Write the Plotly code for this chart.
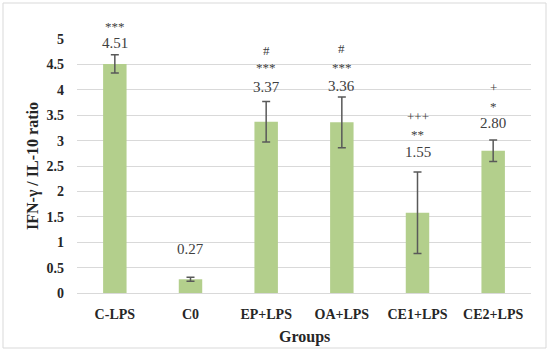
import plotly.graph_objects as go

groups = ["C-LPS", "C0", "EP+LPS", "OA+LPS", "CE1+LPS", "CE2+LPS"]
ratio = [4.51, 0.27, 3.37, 3.36, 1.58, 2.80]
ratio_err = [0.18, 0.04, 0.40, 0.50, 0.80, 0.21]
value_labels = ["4.51", "0.27", "3.37", "3.36", "1.55", "2.80"]
sig_stars = ["***", "", "***", "***", "**", "*"]
sig_other = ["", "", "#", "#", "+++", "+"]

# layout helpers (label positions in axis units)
label_y = [4.93, 0.87, 4.05, 4.08, 2.77, 3.35]
star_y = [5.31, None, 4.50, 4.50, 3.17, 3.74]
other_y = [None, None, 4.78, 4.82, 3.48, 4.05]

Y_MAX = 5
W, H = 550, 353
L, R, T, B = 77, 19, 39, 60
pw, ph = W - L - R, H - T - B

def px_x(x):
    return (x - L) / pw

def px_y(y):
    return (H - B - y) / ph

def yp(v):
    return v / Y_MAX

SERIF = "Liberation Serif, Times New Roman, serif"
fig = go.Figure()
fig.add_trace(go.Bar(
    x=groups, y=ratio,
    marker=dict(color="#b3cf8c", line=dict(width=0)),
    error_y=dict(type="data", array=ratio_err, visible=True,
                 color="#595959", thickness=1.5, width=4),
    cliponaxis=False,
    hoverinfo="skip",
))

ann = []
def add_text(g, y, t, size, shift=0):
    ann.append(dict(x=g, y=yp(y), xref="x", yref="paper", text=t, showarrow=False,
                    xanchor="center", yanchor="middle", yshift=shift,
                    font=dict(family=SERIF, size=size, color="#404040")))

for g, ly, lt in zip(groups, label_y, value_labels):
    add_text(g, ly, lt, 15)
for g, sy, st in zip(groups, star_y, sig_stars):
    if st:
        add_text(g, sy, st, 13, -3)
for g, oy, ot in zip(groups, other_y, sig_other):
    if ot:
        add_text(g, oy, ot, 13)

ann.append(dict(x=px_x(33), y=0.5, xref="paper", yref="paper",
                xanchor="center", yanchor="middle",
                text="IFN-γ / IL-10 ratio", textangle=-90, showarrow=False,
                font=dict(family=SERIF, size=16, color="#262626", weight="bold")))
ann.append(dict(x=0.5, y=px_y(337), xref="paper", yref="paper",
                xanchor="center", yanchor="middle",
                text="Groups", showarrow=False,
                font=dict(family=SERIF, size=16, color="#262626", weight="bold")))

fig.update_layout(
    width=W, height=H,
    margin=dict(l=L, r=R, t=T, b=B),
    paper_bgcolor="white", plot_bgcolor="white",
    bargap=0.69,
    showlegend=False,
    annotations=ann,
    shapes=[dict(type="rect", xref="paper", yref="paper",
                 x0=px_x(3), x1=px_x(546), y0=px_y(348), y1=px_y(3),
                 line=dict(color="#d9d9d9", width=1), layer="below")],
    xaxis=dict(showgrid=False, showline=True, linecolor="#d9d9d9", linewidth=1,
               tickfont=dict(family=SERIF, size=14, color="#262626", weight="bold"),
               ticklabelstandoff=8, fixedrange=True),
    yaxis=dict(range=[0, Y_MAX], tickvals=[0, 0.5, 1, 1.5, 2, 2.5, 3, 3.5, 4, 4.5, 5],
               ticktext=["0", "0.5", "1", "1.5", "2", "2.5", "3", "3.5", "4", "4.5", "5"],
               showgrid=True, gridcolor="#d9d9d9", gridwidth=1, zeroline=False,
               showline=False, fixedrange=True,
               tickfont=dict(family=SERIF, size=14, color="#262626", weight="bold"),
               ticklabelstandoff=12),
)
fig.write_html("out.html", config={"displayModeBar": False},
               post_script="document.body.style.margin='0px';")
